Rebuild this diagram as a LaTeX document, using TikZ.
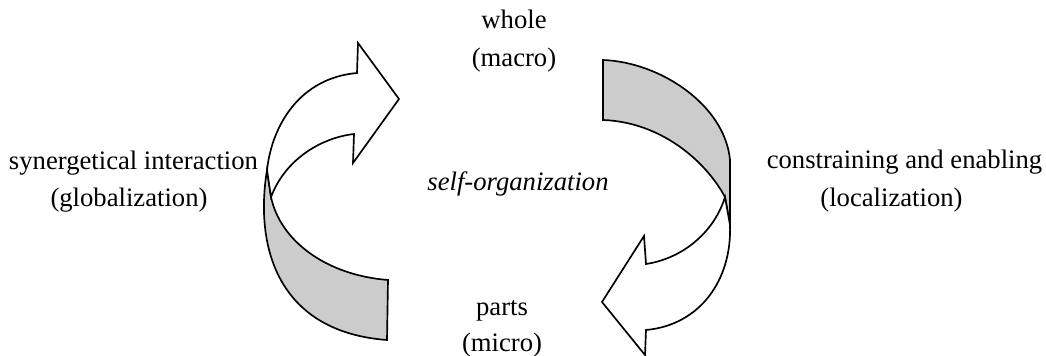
\documentclass[tikz,border=0pt]{standalone}
\usepackage{fontspec}
\setmainfont{Liberation Serif}
\begin{document}
\begin{tikzpicture}[x=0.45pt,y=-0.45pt,
  ribbon/.style={draw=black,line width=0.75pt,line join=miter},
  backside/.style={ribbon,fill=black!20},
  frontside/.style={ribbon,fill=white},
  lbl/.style={anchor=base,inner sep=0pt,font=\fontsize{12}{14}\selectfont}]
\useasboundingbox (0,0) rectangle (1046,356);
% left arrow: back (grey) part
\path[backside] (267,170) .. controls (254,250) and (280,332) .. (387,340)
  -- (388,280)
  .. controls (325,275) and (280,240) .. (271,197)
  -- cycle;
% left arrow: front (white) part
\path[frontside] (357,73) -- (358,43) -- (399,99) -- (353,163) -- (354,134)
  .. controls (320,138) and (285,160) .. (271,197)
  -- (267,170)
  .. controls (272,125) and (300,78) .. (357,73)
  -- cycle;
% right arrow: back (grey) part
\path[backside] (603,60) .. controls (660,62) and (725,105) .. (730,160)
  -- (730,225) -- (725,197)
  .. controls (705,160) and (660,122) .. (603,120)
  -- cycle;
% right arrow: front (white) part
\path[frontside] (730,225) .. controls (732,280) and (700,325) .. (646,330)
  -- (645,355) -- (602,302) -- (644,236) -- (646,264)
  .. controls (685,258) and (715,230) .. (725,197)
  -- cycle;
% labels
\node[lbl] (whole) at (514,29) {whole};
\node[lbl] (macro) at (514,66) {(macro)};
\node[lbl] (parts) at (502,315) {parts};
\node[lbl] (micro) at (502,351) {(micro)};
\node[lbl] (syn) at (133.5,169) {synergetical interaction};
\node[lbl] (glob) at (129,206) {(globalization)};
\node[lbl] (cons) at (904.5,168) {constraining and enabling};
\node[lbl] (loc) at (891.5,206) {(localization)};
\node[lbl,font=\fontsize{12}{14}\selectfont\itshape] (self) at (518,190.5) {self-organization};
\end{tikzpicture}
\end{document}
